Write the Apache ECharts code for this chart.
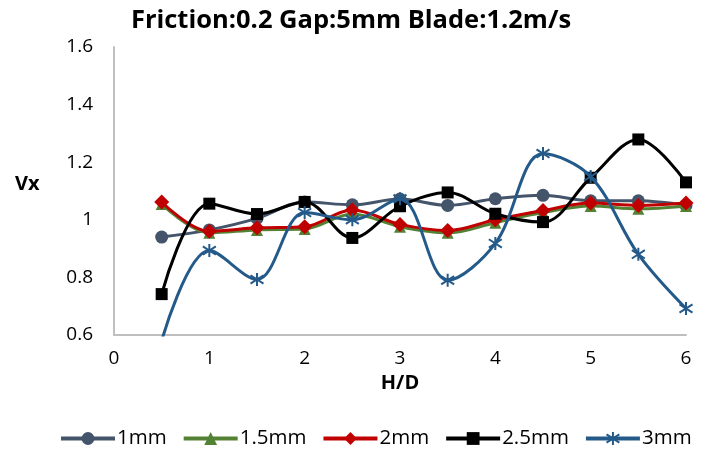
<!DOCTYPE html>
<html><head><meta charset="utf-8">
<script src="https://cdn.jsdelivr.net/npm/echarts@6/dist/echarts.min.js"></script>
<style>html,body{margin:0;padding:0;background:#fff}#c{width:702px;height:456px}</style>
</head><body><div id="c"></div>
<script>
const titleText = 'Friction:0.2 Gap:5mm Blade:1.2m/s';
const xName = 'H/D';
const yName = 'Vx';
const hd = [0.5, 1, 1.5, 2, 2.5, 3, 3.5, 4, 4.5, 5, 5.5, 6];
const seriesNames = ['1mm', '1.5mm', '2mm', '2.5mm', '3mm'];
const v1mm  = [0.94, 0.965, 1.005, 1.062, 1.052, 1.072, 1.05, 1.073, 1.085, 1.066, 1.066, 1.05];
const v15mm = [1.055, 0.955, 0.965, 0.968, 1.02, 0.976, 0.955, 0.99, 1.025, 1.048, 1.038, 1.048];
const v2mm  = [1.062, 0.96, 0.972, 0.976, 1.034, 0.984, 0.963, 1.0, 1.032, 1.058, 1.05, 1.058];
const v25mm = [0.742, 1.056, 1.02, 1.062, 0.937, 1.047, 1.095, 1.021, 0.992, 1.146, 1.279, 1.13];
const v3mm  = [0.58, 0.893, 0.793, 1.025, 1.0, 1.073, 0.79, 0.918, 1.23, 1.15, 0.88, 0.692];
const yTicks = [0.6, 0.8, 1, 1.2, 1.4, 1.6];
const xTicks = [0, 1, 2, 3, 4, 5, 6];

const values = [v1mm, v15mm, v2mm, v25mm, v3mm];
const colors = ['#44546A', '#548235', '#C00000', '#000000', '#245A8A'];
const symbols = ['circle', 'triangle', 'diamond', 'rect', 'path://M5,0L5,10M0.7,1.8L9.3,8.2M0.7,8.2L9.3,1.8'];
const sizes = [13, 12, 15, 12, 13];
const font = 'Open Sans';

const chart = echarts.init(document.getElementById('c'), null, {renderer: 'canvas'});
const series = seriesNames.map((n, i) => ({
  name: n, type: 'line', smooth: 0.35, clip: true,
  data: hd.map((x, k) => [x, values[i][k]]),
  symbol: symbols[i], symbolSize: sizes[i],
  lineStyle: {color: colors[i], width: 3},
  itemStyle: i === 4 ? {color: colors[i], borderColor: colors[i], borderWidth: 2} : {color: colors[i]},
  z: 2 + i
}));
chart.setOption({
  animation: false,
  color: colors,
  title: {text: titleText, left: 'center', top: 3,
    textStyle: {fontFamily: font, fontWeight: 'bold', fontSize: 25.5, color: '#000'}},
  grid: {left: 114, right: 16, top: 47, bottom: 121},
  xAxis: {type: 'value', min: 0, max: 6, interval: 1,
    name: xName, nameLocation: 'middle', nameGap: 32,
    nameTextStyle: {fontFamily: font, fontWeight: 'bold', fontSize: 20, color: '#000'},
    axisLine: {lineStyle: {color: '#BFBFBF', width: 2}}, axisTick: {show: false},
    splitLine: {show: false},
    axisLabel: {fontFamily: font, fontSize: 19, color: '#000', margin: 14,
      formatter: v => xTicks.includes(v) ? String(v) : ''}},
  yAxis: {type: 'value', min: 0.6, max: 1.6, interval: 0.2,
    axisLine: {show: true, lineStyle: {color: '#BFBFBF', width: 2}}, axisTick: {show: false},
    splitLine: {show: false},
    axisLabel: {fontFamily: font, fontSize: 19, color: '#000', margin: 21,
      formatter: v => { const t = yTicks.find(y => Math.abs(y - v) < 1e-6); return t === undefined ? '' : String(t); }}},
  legend: {left: 54, top: 423, itemWidth: 54, itemHeight: 16, itemGap: 15,
    lineStyle: {width: 4},
    textStyle: {fontFamily: font, fontSize: 20.5, color: '#000', padding: [0, 0, 0, -3]},
    data: seriesNames},
  graphic: [{type: 'text', left: 15, top: 174,
    style: {text: yName, fontFamily: font, fontWeight: 'bold', fontSize: 20, fill: '#000'}}],
  series: series
});
</script></body></html>
